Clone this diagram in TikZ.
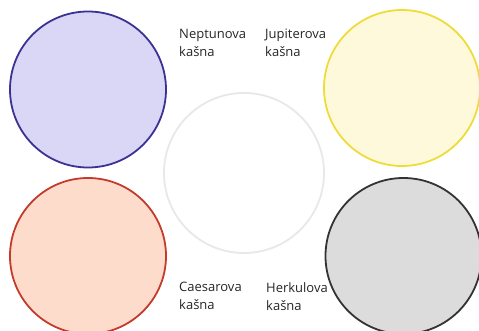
\documentclass[tikz,border=0pt]{standalone}
\usepackage{fontspec}
\setmainfont{Open Sans}
\definecolor{nepfill}{HTML}{DAD6F5}
\definecolor{nepline}{HTML}{3C3294}
\definecolor{jupfill}{HTML}{FFF9DC}
\definecolor{jupline}{HTML}{EEDC3A}
\definecolor{caefill}{HTML}{FDDCCB}
\definecolor{caeline}{HTML}{C43A2C}
\definecolor{herfill}{HTML}{DCDCDC}
\definecolor{herline}{HTML}{333333}
\definecolor{midline}{HTML}{E8E8E8}
\begin{document}
\begin{tikzpicture}[x=1pt,y=-1pt,line join=round,line cap=round]
	\tikzset{kasna/.style={circle,inner sep=0pt,minimum size=156pt,line width=1.8pt},
		ime/.style={anchor=north west,inner sep=0pt,align=left,font=\fontsize{13}{18}\selectfont,text=black!85}}
	\useasboundingbox (0,0) rectangle (479,331);
	% kasne
	\node[kasna,draw=nepline,fill=nepfill] (neptun) at (88,89.5) {};
	\node[kasna,draw=jupline,fill=jupfill] (jupiter) at (402,88) {};
	\node[kasna,draw=caeline,fill=caefill] (caesar) at (88,256) {};
	\node[kasna,draw=herline,fill=herfill] (herkul) at (403.5,256) {};
	\node[kasna,draw=midline,fill=white,minimum size=160pt] (sredina) at (244,173) {};
	% imena
	\node[ime] (nepime) at (179,29) {Neptunova\\kašna};
	\node[ime] (jupime) at (265,29) {Jupiterova\\kašna};
	\node[ime] (caeime) at (179,282) {Caesarova\\kašna};
	\node[ime] (herime) at (266,282) {Herkulova\\kašna};
\end{tikzpicture}
\end{document}
